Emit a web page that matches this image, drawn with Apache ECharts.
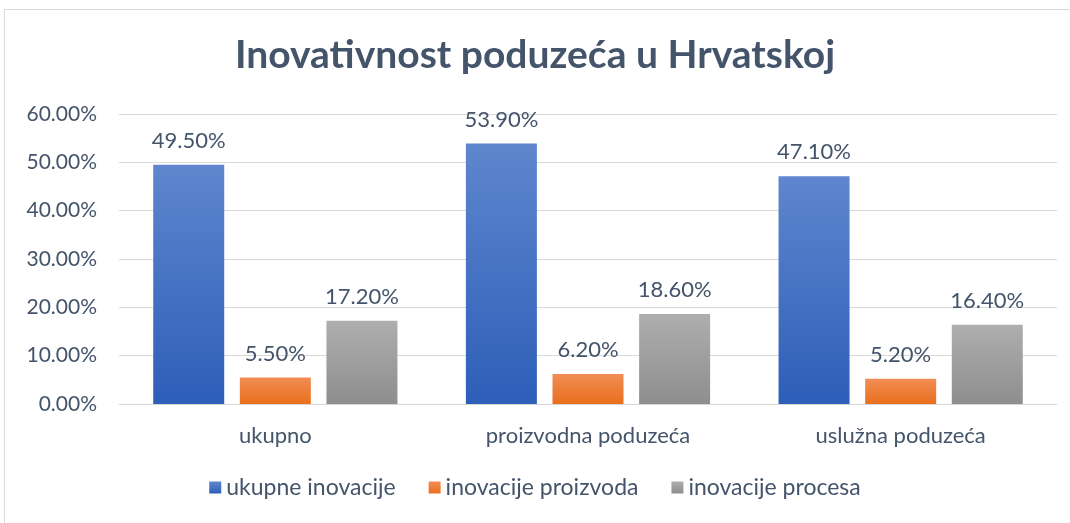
<!DOCTYPE html>
<html>
<head>
<meta charset="utf-8">
<script src="https://cdn.jsdelivr.net/npm/echarts@6/dist/echarts.min.js"></script>
<style>
html,body{margin:0;padding:0;background:#fff;}
#frame{position:absolute;left:4px;top:9px;width:1080px;height:530px;border:1px solid #d9d9d9;box-sizing:border-box;}
#main{position:absolute;left:0;top:0;width:1070px;height:523px;}
</style>
</head>
<body>
<div id="frame"></div>
<div id="main"></div>
<script>
var categories = ['ukupno', 'proizvodna poduzeća', 'uslužna poduzeća'];
var ukupneInovacije = [49.5, 53.9, 47.1];
var inovacijeProizvoda = [5.5, 6.2, 5.2];
var inovacijeProcesa = [17.2, 18.6, 16.4];
var seriesNames = ['ukupne inovacije', 'inovacije proizvoda', 'inovacije procesa'];

var fontFam = 'Lato, "Open Sans", sans-serif';
var textColor = '#44546A';

function grad(top, bottom) {
	return new echarts.graphic.LinearGradient(0, 0, 0, 1, [
		{offset: 0, color: top},
		{offset: 1, color: bottom}
	]);
}

function makeSeries(name, data, top, bottom) {
	return {
		name: name,
		type: 'bar',
		data: data,
		barWidth: 71,
		barGap: '22%',
		itemStyle: {color: grad(top, bottom)},
		label: {
			show: true,
			position: 'top',
			distance: 13,
			fontFamily: fontFam,
			fontSize: 22,
			color: textColor,
			formatter: function (p) { return p.value.toFixed(2) + '%'; }
		}
	};
}

var myChart = echarts.init(document.getElementById('main'));
myChart.setOption({
	animation: false,
	title: {
		text: 'Inovativnost poduzeća u Hrvatskoj',
		left: 'center',
		top: 31,
		textStyle: {fontFamily: fontFam, fontWeight: 'bold', fontSize: 39, color: textColor}
	},
	legend: {
		bottom: 19,
		left: 'center',
		itemWidth: 12,
		itemHeight: 12,
		itemGap: 33,
		icon: 'rect',
		textStyle: {fontFamily: fontFam, fontSize: 23, color: textColor},
		data: seriesNames
	},
	grid: {left: 119, right: 13, top: 114, bottom: 119, containLabel: false},
	xAxis: {
		type: 'category',
		data: categories,
		axisTick: {show: false},
		axisLine: {lineStyle: {color: '#d9d9d9', width: 1}},
		axisLabel: {fontFamily: fontFam, fontSize: 22, color: textColor, margin: 21}
	},
	yAxis: {
		type: 'value',
		min: 0,
		max: 60,
		interval: 10,
		axisLine: {show: false},
		axisTick: {show: false},
		splitLine: {lineStyle: {color: '#d9d9d9', width: 1}},
		axisLabel: {
			fontFamily: fontFam, fontSize: 21, color: textColor, margin: 22,
			formatter: function (v) { return v.toFixed(2) + '%'; }
		}
	},
	series: [
		makeSeries(seriesNames[0], ukupneInovacije, '#5F86CE', '#2D5EB8'),
		makeSeries(seriesNames[1], inovacijeProizvoda, '#F28D55', '#E96F1C'),
		makeSeries(seriesNames[2], inovacijeProcesa, '#AEAEAE', '#8E8E8E')
	]
});
</script>
</body>
</html>
